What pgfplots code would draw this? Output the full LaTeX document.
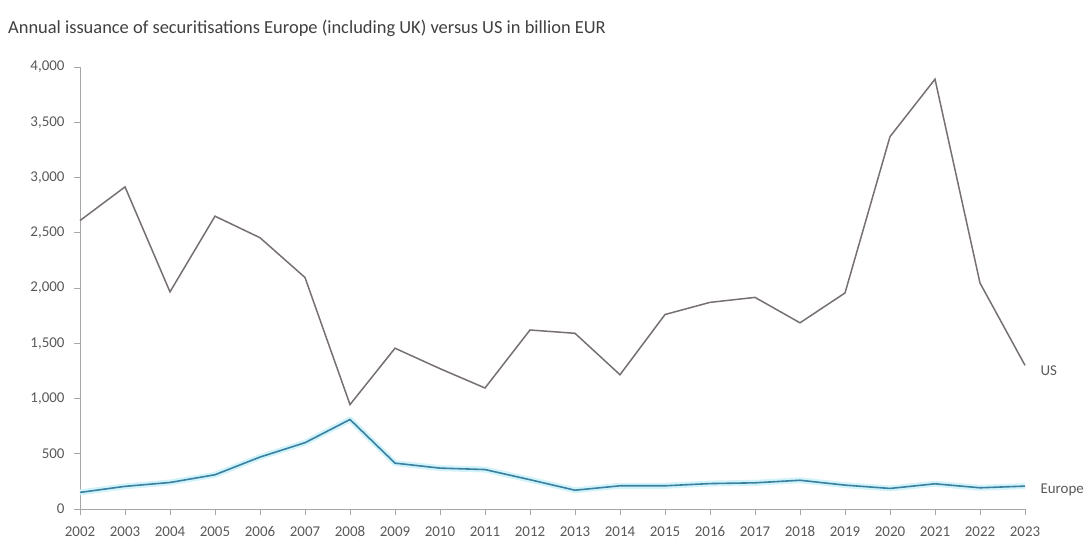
\documentclass[border=0pt]{standalone}
\usepackage{fontspec}
\setmainfont{Carlito}
\usepackage{pgfplots}
\pgfplotsset{compat=1.18}
\definecolor{usgrey}{HTML}{767070}
\definecolor{eublue}{HTML}{3A80A0}
\definecolor{euglow}{HTML}{D2F3FA}
\definecolor{axgrey}{HTML}{A6A6A6}
\definecolor{txtgrey}{HTML}{595959}
\definecolor{titlegrey}{HTML}{404040}
\begin{document}
\begin{tikzpicture}
\useasboundingbox (0,0) rectangle (1090bp,541bp);
\node[anchor=west, text=titlegrey, font=\fontsize{18.5}{22}\selectfont, inner sep=0pt] at (8bp,513bp) {Annual issuance of securitisations Europe (including UK) versus US in billion EUR};
\begin{axis}[
  scale only axis,
  width=945bp, height=442bp,
  at={(80bp,32bp)}, anchor=south west,
  xmin=2002, xmax=2023, ymin=0, ymax=4000,
  axis x line*=bottom, axis y line*=left,
  xtick={2002,2003,...,2023},
  ytick={0,500,...,4000},
  tick align=outside,
  major tick length=6bp,
  tick style={axgrey, line width=0.8bp},
  axis line style={axgrey, line width=0.8bp},
  ticklabel style={font=\fontsize{15}{18}\selectfont, text=txtgrey},
  /pgf/number format/assume math mode=true,
  xticklabel style={/pgf/number format/1000 sep=, yshift=-8bp},
  yticklabel style={/pgf/number format/1000 sep={,}, xshift=-6bp},
  clip=false,
]
\addplot[usgrey, line width=1.5bp] coordinates {
(2002,2610) (2003,2915) (2004,1965) (2005,2650) (2006,2455) (2007,2095)
(2008,945) (2009,1455) (2010,1270) (2011,1095) (2012,1620) (2013,1590)
(2014,1215) (2015,1760) (2016,1870) (2017,1915) (2018,1685) (2019,1955)
(2020,3370) (2021,3890) (2022,2045) (2023,1300)};
\addplot[euglow, line width=6bp, line join=round] coordinates {
(2002,150) (2003,205) (2004,240) (2005,310) (2006,470) (2007,600)
(2008,810) (2009,415) (2010,370) (2011,357) (2012,265) (2013,170)
(2014,210) (2015,210) (2016,230) (2017,237) (2018,260) (2019,216)
(2020,186) (2021,228) (2022,192) (2023,207)};
\addplot[eublue, line width=1.6bp] coordinates {
(2002,150) (2003,205) (2004,240) (2005,310) (2006,470) (2007,600)
(2008,810) (2009,415) (2010,370) (2011,357) (2012,265) (2013,170)
(2014,210) (2015,210) (2016,230) (2017,237) (2018,260) (2019,216)
(2020,186) (2021,228) (2022,192) (2023,207)};
\node[anchor=west, text=txtgrey, font=\fontsize{15}{18}\selectfont, xshift=12bp, yshift=-5bp] at (axis cs:2023,1300) {US};
\node[anchor=west, text=txtgrey, font=\fontsize{15}{18}\selectfont, xshift=12bp, yshift=-4bp] at (axis cs:2023,207) {Europe};
\end{axis}
\end{tikzpicture}
\end{document}
